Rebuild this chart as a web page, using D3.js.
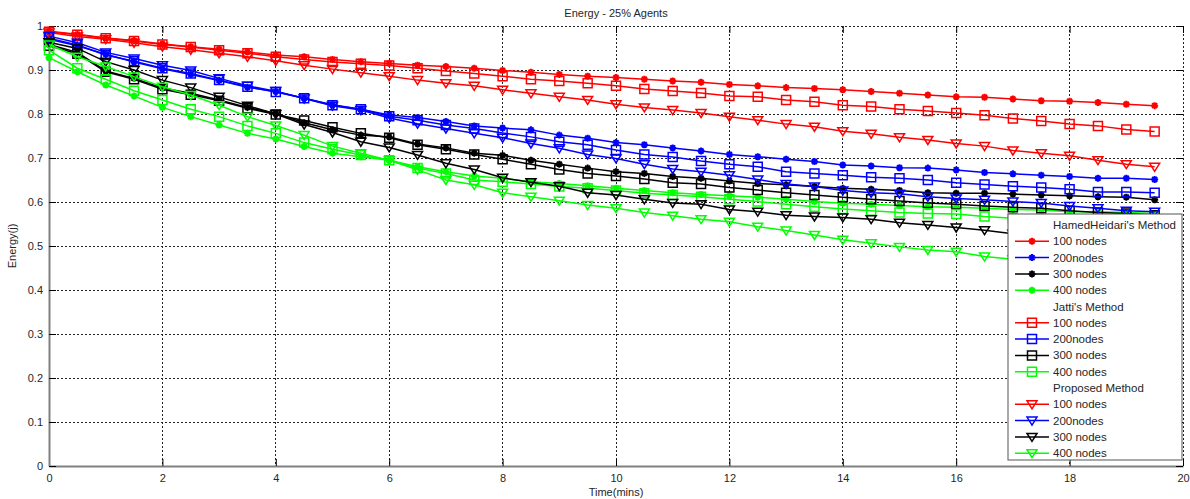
<!DOCTYPE html>
<html>
<head>
<meta charset="utf-8">
<script src="https://cdn.jsdelivr.net/npm/d3@7"></script>
<style>
body {margin: 0; background: #fff;}
svg {display: block;}
text {font-family: "Liberation Sans", Arial, sans-serif;}
</style>
</head>
<body>
<div id="app"></div>
<script>
// Energy - 25% Agents.  One line per method / node count, sampled every half minute.

var times = [0, 0.5, 1, 1.5, 2, 2.5, 3, 3.5, 4, 4.5, 5, 5.5, 6, 6.5, 7, 7.5, 8, 8.5, 9, 9.5,
	10, 10.5, 11, 11.5, 12, 12.5, 13, 13.5, 14, 14.5, 15, 15.5, 16, 16.5, 17, 17.5, 18, 18.5, 19, 19.5];

var xTicks = [0, 2, 4, 6, 8, 10, 12, 14, 16, 18, 20];
var yTicks = [0, 0.1, 0.2, 0.3, 0.4, 0.5, 0.6, 0.7, 0.8, 0.9, 1];
var yTickLabels = ["0", "0.1", "0.2", "0.3", "0.4", "0.5", "0.6", "0.7", "0.8", "0.9", "1"];

var methods = ["HamedHeidari's Method", "Jatti's Method", "Proposed Method"];
var nodeLabels = ["100 nodes", "200nodes", "300 nodes", "400 nodes"];

// HamedHeidari's method (star markers)
var heidari100 = [0.988, 0.981, 0.973, 0.967, 0.959, 0.953, 0.947, 0.941, 0.934,
	0.930, 0.924, 0.919, 0.915, 0.911, 0.908, 0.904, 0.899,
	0.895, 0.890, 0.886, 0.883, 0.879, 0.875, 0.872, 0.867,
	0.864, 0.860, 0.858, 0.855, 0.851, 0.847, 0.843, 0.839,
	0.838, 0.834, 0.830, 0.829, 0.826, 0.822, 0.819];
var heidari200 = [0.970, 0.955, 0.936, 0.918, 0.903, 0.890, 0.876, 0.861, 0.851,
	0.836, 0.821, 0.811, 0.798, 0.792, 0.783, 0.773, 0.768,
	0.764, 0.752, 0.745, 0.735, 0.730, 0.723, 0.716, 0.708,
	0.703, 0.697, 0.692, 0.684, 0.682, 0.678, 0.677, 0.673,
	0.667, 0.664, 0.661, 0.658, 0.654, 0.654, 0.651];
var heidari300 = [0.958, 0.940, 0.898, 0.881, 0.859, 0.847, 0.832, 0.815, 0.801,
	0.780, 0.764, 0.752, 0.748, 0.732, 0.723, 0.711, 0.706,
	0.695, 0.686, 0.677, 0.669, 0.665, 0.658, 0.654, 0.648,
	0.642, 0.639, 0.635, 0.631, 0.629, 0.626, 0.621, 0.620,
	0.620, 0.618, 0.616, 0.614, 0.612, 0.611, 0.605];
var heidari400 = [0.928, 0.896, 0.866, 0.841, 0.815, 0.794, 0.775, 0.756, 0.743,
	0.726, 0.711, 0.703, 0.695, 0.680, 0.669, 0.659, 0.654,
	0.646, 0.642, 0.637, 0.631, 0.626, 0.621, 0.617, 0.614,
	0.611, 0.606, 0.601, 0.597, 0.595, 0.592, 0.589, 0.588,
	0.586, 0.583, 0.582, 0.578, 0.578, 0.576, 0.574];

// Jatti's method (square markers)
var jatti100 = [0.987, 0.980, 0.972, 0.966, 0.958, 0.952, 0.945, 0.938, 0.930,
	0.924, 0.918, 0.914, 0.910, 0.904, 0.898, 0.892, 0.886,
	0.879, 0.875, 0.870, 0.864, 0.857, 0.852, 0.848, 0.841,
	0.839, 0.832, 0.828, 0.820, 0.817, 0.811, 0.807, 0.802,
	0.797, 0.790, 0.784, 0.777, 0.773, 0.765, 0.760];
var jatti200 = [0.972, 0.957, 0.934, 0.920, 0.904, 0.892, 0.877, 0.862, 0.850,
	0.836, 0.820, 0.811, 0.795, 0.786, 0.775, 0.767, 0.757,
	0.748, 0.737, 0.730, 0.718, 0.708, 0.702, 0.693, 0.686,
	0.680, 0.669, 0.665, 0.661, 0.656, 0.654, 0.650, 0.644,
	0.640, 0.636, 0.633, 0.629, 0.623, 0.623, 0.621];
var jatti300 = [0.955, 0.937, 0.896, 0.879, 0.856, 0.844, 0.830, 0.813, 0.799,
	0.785, 0.770, 0.756, 0.746, 0.730, 0.720, 0.708, 0.697,
	0.686, 0.674, 0.665, 0.659, 0.652, 0.644, 0.641, 0.633,
	0.627, 0.621, 0.616, 0.611, 0.606, 0.602, 0.598, 0.595,
	0.591, 0.588, 0.586, 0.580, 0.576, 0.574, 0.570];
var jatti400 = [0.945, 0.904, 0.879, 0.853, 0.832, 0.811, 0.794, 0.773, 0.756,
	0.735, 0.720, 0.707, 0.695, 0.677, 0.665, 0.650, 0.646,
	0.641, 0.635, 0.631, 0.626, 0.620, 0.616, 0.612, 0.606,
	0.601, 0.595, 0.589, 0.584, 0.580, 0.576, 0.574, 0.573,
	0.567, 0.563, 0.560, 0.557, 0.554, 0.551, 0.548];

// Proposed method (down-triangle markers)
var proposed100 = [0.985, 0.976, 0.970, 0.962, 0.953, 0.946, 0.938, 0.930, 0.921,
	0.911, 0.902, 0.894, 0.886, 0.877, 0.870, 0.864, 0.855,
	0.847, 0.839, 0.832, 0.822, 0.815, 0.809, 0.802, 0.794,
	0.786, 0.777, 0.771, 0.761, 0.755, 0.747, 0.741, 0.733,
	0.727, 0.717, 0.711, 0.705, 0.695, 0.686, 0.680];
var proposed200 = [0.977, 0.962, 0.940, 0.926, 0.911, 0.899, 0.881, 0.864, 0.852,
	0.835, 0.819, 0.809, 0.791, 0.778, 0.767, 0.756, 0.746,
	0.733, 0.722, 0.708, 0.699, 0.686, 0.675, 0.669, 0.661,
	0.651, 0.641, 0.635, 0.626, 0.621, 0.619, 0.612, 0.608,
	0.605, 0.601, 0.598, 0.591, 0.586, 0.580, 0.578];
var proposed300 = [0.963, 0.949, 0.919, 0.900, 0.877, 0.860, 0.839, 0.819, 0.800,
	0.776, 0.758, 0.737, 0.724, 0.707, 0.688, 0.674, 0.655,
	0.645, 0.636, 0.621, 0.616, 0.606, 0.598, 0.595, 0.583,
	0.578, 0.570, 0.567, 0.565, 0.561, 0.553, 0.548, 0.542,
	0.536, 0.528, 0.522, 0.516, 0.511, 0.506, 0.500];
var proposed400 = [0.958, 0.930, 0.908, 0.885, 0.862, 0.843, 0.820, 0.794, 0.774,
	0.752, 0.727, 0.711, 0.695, 0.673, 0.650, 0.639, 0.621,
	0.612, 0.603, 0.593, 0.586, 0.576, 0.569, 0.561, 0.555,
	0.544, 0.535, 0.525, 0.514, 0.506, 0.498, 0.491, 0.487,
	0.476, 0.470, 0.464, 0.458, 0.452, 0.447, 0.441];

var lineColors = ["#ff0000", "#0000ff", "#000000", "#00ff00"];
var markerNames = ["star", "square", "triangle"];

var width = 1190, height = 499;
var plotLeft = 49, plotRight = 1183, plotTop = 26, plotBottom = 466;	// window.top is read-only, so no "top".

var series = [
	[heidari100, heidari200, heidari300, heidari400],
	[jatti100, jatti200, jatti300, jatti400],
	[proposed100, proposed200, proposed300, proposed400]];

function markerPath (kind)
{
	// MATLAB '*' is small enough at this size to read as a blob.
	if (kind == "star")
		return "M0,-3.5V3.5M-3.5,0H3.5M-2.5,-2.5L2.5,2.5M-2.5,2.5L2.5,-2.5";
	if (kind == "square")
		return "M-4.5,-4.5H4.5V4.5H-4.5Z";
	return "M-5,-3.5H5L0,4.5Z";
}

var vis = d3.select("#app").append("svg")
	.attr("width", width).attr("height", height);

var x = d3.scaleLinear().domain([0, 20]).range([plotLeft, plotRight]);
var y = d3.scaleLinear().domain([0, 1]).range([plotBottom, plotTop]);

// Dotted grid
var grid = vis.append("g").attr("stroke", "#222").attr("stroke-width", 1)
	.attr("stroke-dasharray", "2,2").attr("shape-rendering", "crispEdges");
grid.selectAll("line.gx").data(xTicks.slice(1)).enter().append("line")
	.attr("x1", function (d) {return x(d);}).attr("x2", function (d) {return x(d);})
	.attr("y1", plotTop).attr("y2", plotBottom);
grid.selectAll("line.gy").data(yTicks.slice(1)).enter().append("line")
	.attr("y1", function (d) {return y(d);}).attr("y2", function (d) {return y(d);})
	.attr("x1", plotLeft).attr("x2", plotRight);

// Axes: inward ticks, mirrored on top and right like MATLAB's box.
var xAxis = vis.append("g").attr("transform", "translate(0," + plotBottom + ")")
	.call(d3.axisBottom(x).tickValues(xTicks).tickSizeInner(-7).tickSizeOuter(0).tickPadding(8)
		.tickFormat(d3.format("d")));
var yAxis = vis.append("g").attr("transform", "translate(" + plotLeft + ",0)")
	.call(d3.axisLeft(y).tickValues(yTicks).tickSizeInner(-7).tickSizeOuter(0).tickPadding(6)
		.tickFormat(function (d, i) {return yTickLabels[i];}));
vis.append("g").attr("transform", "translate(0," + plotTop + ")")
	.call(d3.axisTop(x).tickValues(xTicks).tickSizeInner(-7).tickSizeOuter(0).tickFormat(""))
	.select(".domain").remove();
vis.append("g").attr("transform", "translate(" + plotRight + ",0)")
	.call(d3.axisRight(y).tickValues(yTicks).tickSizeInner(-7).tickSizeOuter(0).tickFormat(""))
	.select(".domain").remove();

[xAxis, yAxis].forEach(function (g)
{
	g.select(".domain").attr("stroke", "#808080").attr("stroke-width", 2);
	g.selectAll("text").attr("fill", "#262626").style("font-size", "11px");
});
vis.selectAll(".tick line").attr("stroke", "#000").attr("stroke-width", 1);

// Lines and markers
var line = d3.line()
	.x(function (d, i) {return x(times[i]);})
	.y(function (d) {return y(d);});

series.forEach(function (group, m)
{
	group.forEach(function (values, k)
	{
		var g = vis.append("g");
		g.append("path").attr("d", line(values))
			.attr("fill", "none").attr("stroke", lineColors[k]).attr("stroke-width", 1.5);
		g.selectAll("path.mk").data(values).enter().append("path")
			.attr("class", "mk")
			.attr("transform", function (d, i) {return "translate(" + x(times[i]) + "," + y(d) + ")";})
			.attr("d", markerPath(markerNames[m]))
			.attr("fill", "none").attr("stroke", lineColors[k])
			.attr("stroke-width", markerNames[m] == "star" ? 2 : 1.5);
	});
});

// Legend
var lx = 1008, ly = 214, lw = 174, lh = 246, rowH = 16.3;
var legend = vis.append("g");
legend.append("rect").attr("x", lx).attr("y", ly).attr("width", lw).attr("height", lh)
	.attr("fill", "#fff").attr("stroke", "#555").attr("stroke-width", 1);
var row = 0;
methods.forEach(function (name, m)
{
	legend.append("text").attr("x", lx + 45).attr("y", ly + 11 + row * rowH).attr("dy", "0.35em")
		.attr("fill", "#262626").style("font-size", "11.5px").text(name);
	row++;
	nodeLabels.forEach(function (label, k)
	{
		var cy = ly + 11 + row * rowH;
		legend.append("line").attr("x1", lx + 7).attr("x2", lx + 41).attr("y1", cy).attr("y2", cy)
			.attr("stroke", lineColors[k]).attr("stroke-width", 1.5);
		legend.append("path").attr("transform", "translate(" + (lx + 24) + "," + cy + ")")
			.attr("d", markerPath(markerNames[m]))
			.attr("fill", "none").attr("stroke", lineColors[k])
			.attr("stroke-width", markerNames[m] == "star" ? 2 : 1.5);
		legend.append("text").attr("x", lx + 45).attr("y", cy).attr("dy", "0.35em")
			.attr("fill", "#262626").style("font-size", "11.5px").text(label);
		row++;
	});
});

// Titles
vis.append("text").attr("x", (plotLeft + plotRight) / 2).attr("y", 17).attr("text-anchor", "middle")
	.attr("fill", "#262626").style("font-size", "11px").text("Energy - 25% Agents");
vis.append("text").attr("x", (plotLeft + plotRight) / 2).attr("y", 496).attr("text-anchor", "middle")
	.attr("fill", "#262626").style("font-size", "11px").text("Time(mins)");
vis.append("text").attr("transform", "translate(16," + (plotTop + plotBottom) / 2 + ") rotate(-90)")
	.attr("text-anchor", "middle")
	.attr("fill", "#262626").style("font-size", "11px").text("Energy(j)");
</script>
</body>
</html>
